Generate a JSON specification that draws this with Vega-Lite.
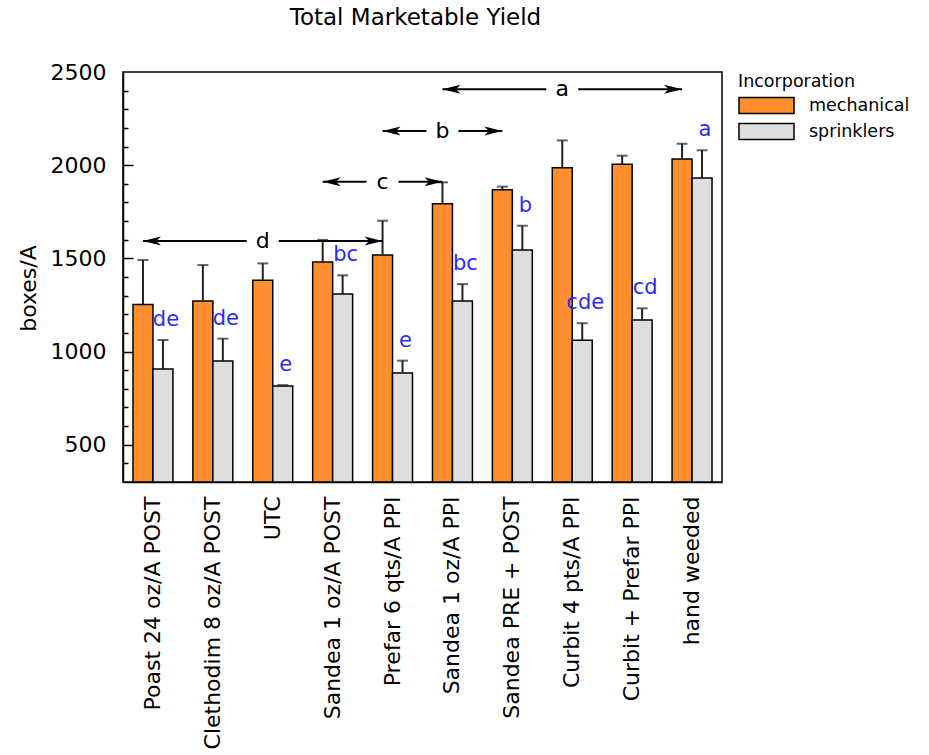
{
  "$schema": "https://vega.github.io/schema/vega-lite/v6.json",
  "width": 599,
  "height": 410,
  "autosize": {"type": "none"},
  "padding": {"left": 123, "top": 72, "right": 207, "bottom": 273},
  "background": "white",
  "config": {
    "font": "DejaVu Sans",
    "view": {"stroke": "black", "strokeWidth": 1.5}
  },
  "title": {"text": "Total Marketable Yield", "fontSize": 23, "fontWeight": "normal", "color": "black", "offset": 31, "dx": -7},
  "resolve": {"axis": {"y": "independent"}},
  "datasets": {
    "yield": [
      {"treatment": "Poast 24 oz/A POST", "incorporation": "mechanical", "yield": 1253, "upper": 1491},
      {"treatment": "Poast 24 oz/A POST", "incorporation": "sprinklers", "yield": 906, "upper": 1062, "letter": "de"},
      {"treatment": "Clethodim 8 oz/A POST", "incorporation": "mechanical", "yield": 1271, "upper": 1464},
      {"treatment": "Clethodim 8 oz/A POST", "incorporation": "sprinklers", "yield": 949, "upper": 1069, "letter": "de"},
      {"treatment": "UTC", "incorporation": "mechanical", "yield": 1382, "upper": 1473},
      {"treatment": "UTC", "incorporation": "sprinklers", "yield": 815, "upper": 820, "letter": "e"},
      {"treatment": "Sandea 1 oz/A POST", "incorporation": "mechanical", "yield": 1480, "upper": 1599},
      {"treatment": "Sandea 1 oz/A POST", "incorporation": "sprinklers", "yield": 1309, "upper": 1409, "letter": "bc"},
      {"treatment": "Prefar 6 qts/A PPI", "incorporation": "mechanical", "yield": 1518, "upper": 1702},
      {"treatment": "Prefar 6 qts/A PPI", "incorporation": "sprinklers", "yield": 885, "upper": 951, "letter": "e"},
      {"treatment": "Sandea 1 oz/A PPI", "incorporation": "mechanical", "yield": 1793, "upper": 1908},
      {"treatment": "Sandea 1 oz/A PPI", "incorporation": "sprinklers", "yield": 1271, "upper": 1362, "letter": "bc"},
      {"treatment": "Sandea PRE + POST", "incorporation": "mechanical", "yield": 1868, "upper": 1885},
      {"treatment": "Sandea PRE + POST", "incorporation": "sprinklers", "yield": 1545, "upper": 1675, "letter": "b"},
      {"treatment": "Curbit 4 pts/A PPI", "incorporation": "mechanical", "yield": 1986, "upper": 2133},
      {"treatment": "Curbit 4 pts/A PPI", "incorporation": "sprinklers", "yield": 1060, "upper": 1152, "letter": "cde"},
      {"treatment": "Curbit + Prefar PPI", "incorporation": "mechanical", "yield": 2005, "upper": 2051},
      {"treatment": "Curbit + Prefar PPI", "incorporation": "sprinklers", "yield": 1169, "upper": 1232, "letter": "cd"},
      {"treatment": "hand weeded", "incorporation": "mechanical", "yield": 2033, "upper": 2115},
      {"treatment": "hand weeded", "incorporation": "sprinklers", "yield": 1931, "upper": 2080, "letter": "a"}
    ],
    "groups": [
      {"letter": "d", "start": "Poast 24 oz/A POST", "mid": "UTC", "end": "Prefar 6 qts/A PPI", "y": 1593},
      {"letter": "c", "start": "Sandea 1 oz/A POST", "mid": "Prefar 6 qts/A PPI", "end": "Sandea 1 oz/A PPI", "y": 1911},
      {"letter": "b", "start": "Prefar 6 qts/A PPI", "mid": "Sandea 1 oz/A PPI", "end": "Sandea PRE + POST", "y": 2183},
      {"letter": "a", "start": "Sandea 1 oz/A PPI", "mid": "Curbit 4 pts/A PPI", "end": "hand weeded", "y": 2407}
    ]
  },
  "layer": [
    {
      "data": {"name": "yield"},
      "mark": {"type": "bar", "stroke": "black", "strokeWidth": 1.5},
      "encoding": {
        "x": {
          "field": "treatment", "type": "nominal", "title": null,
          "scale": {"domain": ["Poast 24 oz/A POST", "Clethodim 8 oz/A POST", "UTC", "Sandea 1 oz/A POST", "Prefar 6 qts/A PPI", "Sandea 1 oz/A PPI", "Sandea PRE + POST", "Curbit 4 pts/A PPI", "Curbit + Prefar PPI", "hand weeded"], "paddingInner": 0.3333, "paddingOuter": 0.1667},
          "axis": {"labelAngle": -90, "labelAlign": "right", "labelBaseline": "middle", "labelFontSize": 22, "labelColor": "black", "labelPadding": 14, "ticks": false, "domainColor": "black", "domainWidth": 1.5, "labelLimit": 400}
        },
        "xOffset": {"field": "incorporation", "type": "nominal", "scale": {"domain": ["mechanical", "sprinklers"], "paddingInner": 0}},
        "y": {
          "field": "yield", "type": "quantitative", "title": "boxes/A",
          "scale": {"domain": [300, 2500], "nice": false, "zero": false},
          "axis": {
            "orient": "left",
            "values": [500, 1000, 1500, 2000, 2500],
            "format": "d",
            "labelOverlap": false,
            "ticks": false,
            "labelPadding": 17, "labelFontSize": 22, "labelColor": "black",
            "domainColor": "black", "domainWidth": 1.5, "grid": false,
            "titleFontSize": 22, "titleFontWeight": "normal", "titleColor": "black",
            "titleX": -95, "titleY": 216, "titleAngle": -90, "titleAlign": "center", "titleBaseline": "middle"
          }
        },
        "y2": {"datum": 300},
        "color": {
          "field": "incorporation", "type": "nominal",
          "scale": {"domain": ["mechanical", "sprinklers"], "range": ["#FF8F2E", "#DEDEDE"]},
          "legend": {
            "orient": "none", "legendX": 615, "legendY": 1, "title": "Incorporation",
            "titleFontSize": 17.5, "titleFontWeight": "normal", "titleColor": "black",
            "labelFontSize": 17.5, "labelColor": "black",
            "symbolType": "M -1 -1 H 5.875 V 1 H -1 Z", "symbolSize": 256,
            "symbolStrokeColor": "black", "symbolStrokeWidth": 1.5, "symbolOpacity": 1,
            "labelOffset": 53, "rowPadding": 4, "titlePadding": 6, "padding": 0
          }
        }
      }
    },
    {
      "data": {"name": "yield"},
      "mark": {"type": "rule", "color": "#222222", "strokeWidth": 2},
      "encoding": {
        "x": {"field": "treatment", "type": "nominal"},
        "xOffset": {"field": "incorporation", "type": "nominal"},
        "y": {
          "field": "yield", "type": "quantitative",
          "axis": {
            "orient": "right", "offset": -599, "title": null, "labels": false, "domain": false, "grid": false,
            "values": [400, 600, 700, 800, 900, 1100, 1200, 1300, 1400, 1600, 1700, 1800, 1900, 2100, 2200, 2300, 2400],
            "tickSize": 5, "tickColor": "black", "tickWidth": 1.5
          }
        },
        "y2": {"field": "upper"}
      }
    },
    {
      "data": {"name": "yield"},
      "mark": {"type": "tick", "color": "#222222", "thickness": 2, "size": 11, "orient": "horizontal"},
      "encoding": {
        "x": {"field": "treatment", "type": "nominal"},
        "xOffset": {"field": "incorporation", "type": "nominal"},
        "y": {
          "field": "upper", "type": "quantitative",
          "axis": {
            "orient": "right", "offset": -599, "title": null, "labels": false, "domain": false, "grid": false,
            "values": [500, 1000, 1500, 2000],
            "tickSize": 10, "tickColor": "black", "tickWidth": 1.5
          }
        }
      }
    },
    {
      "data": {"name": "yield"},
      "transform": [{"filter": "isValid(datum.letter)"}],
      "mark": {"type": "text", "color": "#2a2aff", "fontSize": 21, "dy": -20, "dx": 3, "baseline": "middle"},
      "encoding": {
        "x": {"field": "treatment", "type": "nominal"},
        "xOffset": {"field": "incorporation", "type": "nominal"},
        "y": {"field": "upper", "type": "quantitative", "axis": null},
        "text": {"field": "letter"}
      }
    },
    {
      "data": {"name": "groups"},
      "mark": {"type": "rule", "color": "black", "strokeWidth": 2, "xOffset": -10, "x2Offset": -26},
      "encoding": {
        "x": {"field": "start", "type": "nominal"},
        "x2": {"field": "mid"},
        "y": {"field": "y", "type": "quantitative", "axis": null}
      }
    },
    {
      "data": {"name": "groups"},
      "mark": {"type": "rule", "color": "black", "strokeWidth": 2, "xOffset": 6, "x2Offset": -10},
      "encoding": {
        "x": {"field": "mid", "type": "nominal"},
        "x2": {"field": "end"},
        "y": {"field": "y", "type": "quantitative", "axis": null}
      }
    },
    {
      "data": {"name": "groups"},
      "mark": {"type": "point", "filled": true, "color": "black", "opacity": 1, "size": 1296, "shape": "M 0 0 L 1 -0.25 L 0.75 0 L 1 0.25 Z", "xOffset": -10},
      "encoding": {
        "x": {"field": "start", "type": "nominal"},
        "y": {"field": "y", "type": "quantitative", "axis": null}
      }
    },
    {
      "data": {"name": "groups"},
      "mark": {"type": "point", "filled": true, "color": "black", "opacity": 1, "size": 1296, "shape": "M 0 0 L -1 -0.25 L -0.75 0 L -1 0.25 Z", "xOffset": -10},
      "encoding": {
        "x": {"field": "end", "type": "nominal"},
        "y": {"field": "y", "type": "quantitative", "axis": null}
      }
    },
    {
      "data": {"name": "groups"},
      "mark": {"type": "text", "color": "black", "fontSize": 22, "baseline": "middle", "xOffset": -10},
      "encoding": {
        "x": {"field": "mid", "type": "nominal"},
        "y": {"field": "y", "type": "quantitative", "axis": null},
        "text": {"field": "letter"}
      }
    }
  ]
}
